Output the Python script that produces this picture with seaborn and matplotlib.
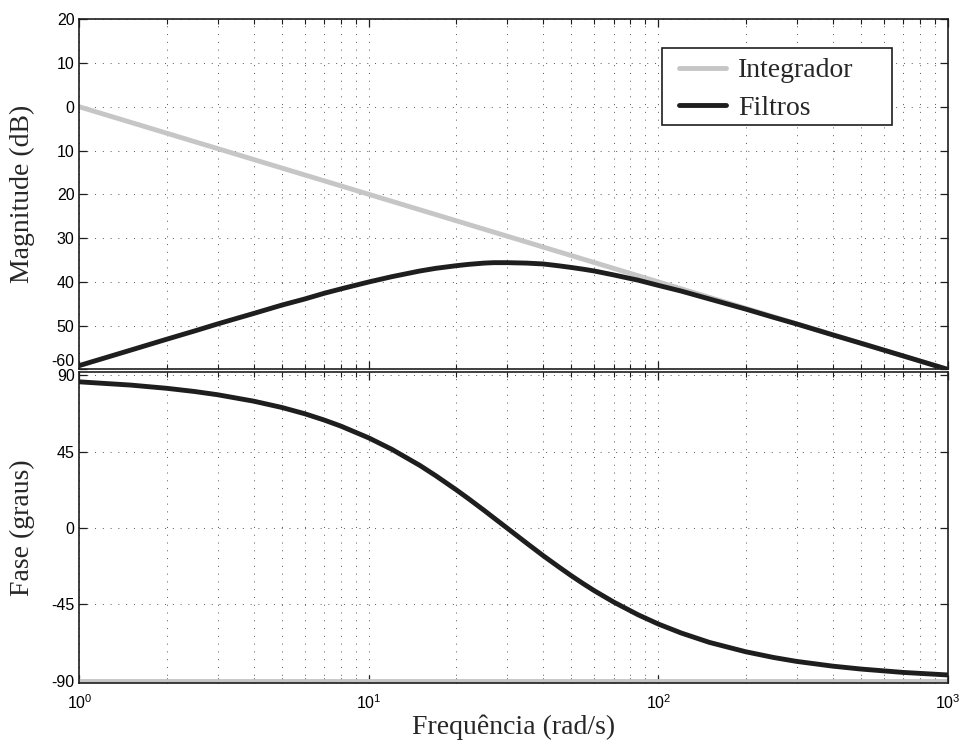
import numpy as np
import pandas as pd
import matplotlib
matplotlib.use("Agg")
import matplotlib.pyplot as plt
from matplotlib.patches import Rectangle
import seaborn as sns
from matplotlib.ticker import FixedLocator, NullFormatter, LogLocator

# ---------------- data ----------------
freq = [1, 1.5, 2, 2.5, 3, 4, 5, 6, 7, 8, 10, 12, 15, 17, 20, 22, 25, 27, 30,
        35, 40, 45, 50, 55, 60, 70, 85, 100, 120, 150, 200, 250, 300, 400,
        500, 700, 1000]
filt_mag = [-59.1, -55.6, -53.1, -51.2, -49.6, -47.2, -45.3, -43.9, -42.6,
            -41.6, -40.0, -38.8, -37.5, -36.9, -36.3, -36.0, -35.7, -35.6,
            -35.6, -35.7, -35.9, -36.3, -36.7, -37.1, -37.5, -38.4, -39.6,
            -40.8, -42.1, -43.9, -46.2, -48.1, -49.6, -52.1, -54.0, -56.9, -60.0]
filt_phase = [86.2, 84.3, 82.4, 80.5, 78.6, 74.8, 71.1, 67.4, 63.7, 60.1,
              53.1, 46.4, 36.9, 30.9, 22.6, 17.5, 10.4, 6.0, 0.0, -8.8,
              -16.3, -22.6, -28.1, -32.8, -36.9, -43.6, -51.1, -56.6, -61.9,
              -67.4, -72.9, -76.3, -78.6, -81.4, -83.1, -85.1, -86.6]
int_freq = [1, 10, 100, 1000]
int_mag = [0, -20, -40, -60]
int_phase = [-90, -90, -90, -90]

mag_ticks = [20, 10, 0, -10, -20, -30, -40, -50, -60]
mag_ticklabels = ["20", "10", "0", "10", "20", "30", "40", "50", "-60"]
phase_ticks = [90, 45, 0, -45, -90]
phase_ticklabels = ["90", "45", "0", "-45", "-90"]
x_ticks = [1, 10, 100, 1000]
x_ticklabels = [r"$10^{0}$", r"$10^{1}$", r"$10^{2}$", r"$10^{3}$"]

# ---------------- style ----------------
sns.set_style("ticks")
plt.rcParams["font.family"] = ["Liberation Sans", "DejaVu Sans"]
plt.rcParams["mathtext.fontset"] = "custom"
plt.rcParams["mathtext.rm"] = "Liberation Sans"
plt.rcParams["mathtext.it"] = "Liberation Sans"
plt.rcParams["mathtext.default"] = "regular"

serif = ["Liberation Serif", "DejaVu Serif"]
dark = "#1e1e1e"
gray = "#c6c6c6"
LW = 3.5

fig = plt.figure(figsize=(9.62, 7.47), dpi=100)
ax1 = fig.add_axes([0.0826, 0.5054, 0.9028, 0.4688])
ax2 = fig.add_axes([0.0826, 0.0853, 0.9028, 0.4167])

df_f = pd.DataFrame({"freq": freq, "mag": filt_mag, "phase": filt_phase})
df_i = pd.DataFrame({"freq": int_freq, "mag": int_mag, "phase": int_phase})

sns.lineplot(data=df_i, x="freq", y="mag", ax=ax1, color=gray, lw=LW,
             label="Integrador", sort=True)
sns.lineplot(data=df_f, x="freq", y="mag", ax=ax1, color=dark, lw=LW,
             label="Filtros", sort=True)
sns.lineplot(data=df_i, x="freq", y="phase", ax=ax2, color=gray, lw=LW,
             legend=False, sort=True)
sns.lineplot(data=df_f, x="freq", y="phase", ax=ax2, color=dark, lw=LW,
             legend=False, sort=True)

for ax in (ax1, ax2):
    ax.set_xscale("log")
    ax.set_xlim(1, 1000)
    ax.xaxis.set_major_locator(FixedLocator(x_ticks))
    ax.xaxis.set_minor_locator(LogLocator(base=10, subs=np.arange(2, 10)))
    ax.xaxis.set_minor_formatter(NullFormatter())
    ax.grid(True, which="major", axis="both", color="#555555",
            linestyle=(0, (1, 7)), linewidth=0.7)
    ax.grid(True, which="minor", axis="x", color="#555555",
            linestyle=(0, (1, 7)), linewidth=0.7)
    ax.tick_params(which="both", direction="in", top=True, right=True,
                   colors=dark, labelcolor="black", labelsize=11.5)
    ax.tick_params(which="major", length=6, width=0.9)
    ax.tick_params(which="minor", length=3.5, width=0.8)
    for sp in ax.spines.values():
        sp.set_visible(True)
        sp.set_color(dark)
        sp.set_linewidth(1.2)
    ax.set_axisbelow(True)

ax1.set_ylim(-60, 20)
ax1.set_yticks(mag_ticks)
ax1.set_yticklabels(mag_ticklabels)
ax1.get_yticklabels()[-1].set_va("bottom")
ax1.set_xticklabels([])
ax1.set_xlabel("")
ax1.set_ylabel("Magnitude (dB)", family=serif, fontsize=20, labelpad=12)

ax2.set_ylim(-91.5, 92)
ax2.set_yticks(phase_ticks)
ax2.set_yticklabels(phase_ticklabels)
ax2.set_xticklabels(x_ticklabels)
ax2.tick_params(axis="x", labelsize=11.5, pad=7)
ax2.set_xlabel("Frequência (rad/s)", family=serif, fontsize=20, labelpad=2)
ax2.set_ylabel("Fase (graus)", family=serif, fontsize=20, labelpad=12)

# legend box (Matlab-style, wide frame)
box = Rectangle((0.6707, 0.698), 0.2648, 0.219, transform=ax1.transAxes,
                facecolor="white", edgecolor=dark, lw=1.2, zorder=4)
ax1.add_patch(box)
leg = ax1.legend(loc="center left", bbox_to_anchor=(0.6906, 0.800),
                 borderaxespad=0, borderpad=0, prop={"family": serif, "size": 20},
                 frameon=False, handlelength=1.7, handletextpad=0.42,
                 labelspacing=0.42)
leg.set_zorder(5)

fig.savefig("out.png", dpi=100)
